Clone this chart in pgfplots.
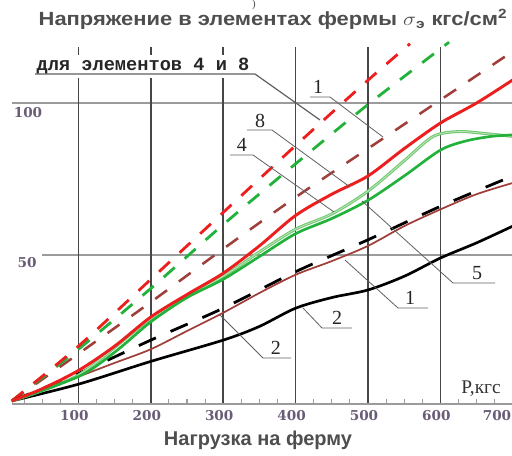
\documentclass[border=0pt]{standalone}
\usepackage{fontspec}
\setmainfont{Liberation Serif}
\newfontfamily\sansf{Liberation Sans}
\newfontfamily\monof{Liberation Mono}
\newfontfamily\dserif{DejaVu Serif}
\usepackage{pgfplots}
\pgfplotsset{compat=1.18}
\definecolor{cred}{RGB}{236,30,30}
\definecolor{cgreen}{RGB}{34,178,60}
\definecolor{clgreen}{RGB}{112,200,112}
\definecolor{cbrown}{RGB}{160,62,58}
\definecolor{cvgrid}{RGB}{70,70,70}
\definecolor{chgrid}{RGB}{155,155,155}
\definecolor{clead}{RGB}{95,95,95}
\definecolor{ctick}{RGB}{105,92,118}
\definecolor{ctitle}{RGB}{78,78,78}
\begin{document}
\begin{tikzpicture}
% grid in pixel coordinates of the 512x455 picture
\begin{scope}[yshift=341.25pt,x=0.75pt,y=-0.75pt]
  \draw[chgrid,line width=1.1pt] (12,103) -- (512,103);
  \draw[chgrid,line width=1.1pt] (42,255) -- (512,255);
  \foreach \k in {1,2,3} {
    \pgfmathsetmacro\xx{6+72.4*\k}
    \draw[cvgrid,line width=1.3pt] (\xx,47) -- (\xx,55);
    \draw[cvgrid,line width=1.3pt] (\xx,78) -- (\xx,404);
  }
  \foreach \k in {4,5,6} {
    \pgfmathsetmacro\xx{6+72.4*\k}
    \draw[cvgrid,line width=1.3pt] (\xx,47) -- (\xx,404);
  }
  \draw[chgrid,line width=1.1pt] (12,404) -- (512,404);
  \foreach \m in {1,...,28} {
    \pgfmathtruncatemacro\r{mod(\m,4)}
    \ifnum\r>0
      \pgfmathsetmacro\xx{6+18.1*\m}
      \draw[chgrid,line width=0.8pt] (\xx,404) -- (\xx,399);
    \fi
  }
\end{scope}
\begin{axis}[at={(0,0)},anchor=south west,scale only axis,
  width=384pt,height=341.25pt,
  xmin=-8.287,xmax=698.9,ymin=-15.789,ymax=133.88,
  hide axis,clip=false]
% brown dashed
\addplot[cbrown,line width=1.9pt,dash pattern=on 11pt off 11pt,smooth] coordinates {
(8,2) (100,17.5) (200,34.5) (300,52) (400,69) (500,85) (600,101) (700,117)};
% green dashed
\addplot[cgreen,line width=2.1pt,dash pattern=on 11pt off 10pt,smooth] coordinates {
(8,2) (100,19) (200,39) (300,60) (400,80) (500,99.5) (612,120)};
% red dashed
\addplot[cred,line width=2.1pt,dash pattern=on 11pt off 10pt,smooth] coordinates {
(8,2) (100,20) (200,42) (300,64) (400,86) (500,107.5) (558,119.5)};
% black dashed
\addplot[black,line width=2.1pt,dash pattern=on 14pt off 12pt,smooth] coordinates {
(8,2) (100,11) (200,22) (300,32.5) (400,44.5) (500,55) (600,66) (700,76)};
% brown solid
\addplot[cbrown,line width=1.3pt,smooth] coordinates {
(8,2) (100,10) (150,14.5) (200,19) (250,25) (300,31) (350,37.5) (400,43.5) (450,48) (500,53) (550,59.5) (600,65) (650,70) (700,73.7)};
% black solid
\addplot[black,line width=2pt,smooth] coordinates {
(8,2) (100,7.5) (200,15) (300,22) (350,26.5) (400,32.5) (450,36) (500,38.5) (550,43) (600,49) (650,54) (700,59.5)};
% light green (upper)
\addplot[clgreen,line width=2.2pt,smooth] coordinates {
(8,2) (100,10.5) (200,29) (300,43) (350,51) (400,58.5) (450,63.5) (500,71) (550,81) (590,89) (625,90.6) (660,90) (700,89)};
\addplot[clgreen!45!white,line width=0.6pt,smooth] coordinates {
(8,2) (100,10.5) (200,29) (300,43) (350,51) (400,58.5) (450,63.5) (500,71) (550,81) (590,89) (625,90.6) (660,90) (700,89)};
% green (lower)
\addplot[cgreen,line width=2pt,smooth] coordinates {
(8,2) (100,10) (150,18) (200,28) (250,36) (300,42) (350,49.5) (400,57) (450,62) (500,68) (550,76) (600,84.5) (635,87.5) (670,89) (700,89.5)};
% red solid
\addplot[cred,line width=2.2pt,smooth] coordinates {
(8,2) (50,6) (100,12) (150,20) (200,29.6) (250,37) (300,44) (350,53) (400,63) (450,70) (500,76) (550,85) (600,93.4) (650,100) (700,107.6)};
\end{axis}
% annotations in pixel coordinates
\begin{scope}[yshift=341.25pt,x=0.75pt,y=-0.75pt]
  \node[black!70,font=\fontsize{8}{9}\selectfont,inner sep=0pt] at (254,5) {)};
  \node[ctitle,font=\sansf\bfseries\fontsize{14.3}{16}\selectfont] at (273,19)
    {\scalebox{1.15}[1]{Напряжение в элементах фермы $\sigma$\textsubscript{э} кгс/см\textsuperscript{2}}};
  \node[ctitle,font=\sansf\bfseries\fontsize{15}{17}\selectfont] at (258,440) {Нагрузка на ферму};
  \tikzset{tk/.style={ctick,font=\dserif\bfseries\fontsize{10.2}{12}\selectfont}}
  \foreach \k/\lab in {1/100,2/200,3/300,4/400,5/500,6/600} {
    \pgfmathsetmacro\xx{6+72.4*\k-4}
    \node[tk] at (\xx,416) {\lab};
  }
  \node[tk] at (497,416) {700};
  \node[tk] at (28,113) {100};
  \node[tk] at (27,263) {50};
  \node[black!80,font=\fontsize{14.5}{16}\selectfont] at (481,389) {P,кгс};
  \node[black!85,font=\monof\bfseries\fontsize{14}{16}\selectfont,anchor=base] at (143,70) {для элементов 4 и 8};
  \draw[clead,line width=0.9pt] (35,74) -- (255,74) -- (320,120);
  \tikzset{lbl/.style={black!85,font=\fontsize{15}{17}\selectfont,anchor=base}}
  \node[lbl] at (318,93) {1};
  \draw[clead,line width=0.6pt] (310,97) -- (330,97) -- (383,137);
  \node[lbl] at (260,127) {8};
  \draw[clead,line width=0.6pt] (247,130) -- (272,130) -- (350,187);
  \node[lbl] at (242,151) {4};
  \draw[clead,line width=0.6pt] (230,155) -- (253,155) -- (334,212);
  \node[lbl] at (477,279) {5};
  \draw[clead,line width=0.6pt] (362,201) -- (453,283) -- (495,283);
  \node[lbl] at (410,304) {1};
  \draw[clead,line width=0.6pt] (345,260) -- (398,308) -- (428,308);
  \node[lbl] at (337,324) {2};
  \draw[clead,line width=0.6pt] (303,308) -- (322,328) -- (352,328);
  \node[lbl] at (276,354) {2};
  \draw[clead,line width=0.6pt] (220,315) -- (263,358) -- (291,358);
\end{scope}
\pgfresetboundingbox
\path[use as bounding box] (0,0) rectangle (384pt,341.25pt);
\end{tikzpicture}
\end{document}
